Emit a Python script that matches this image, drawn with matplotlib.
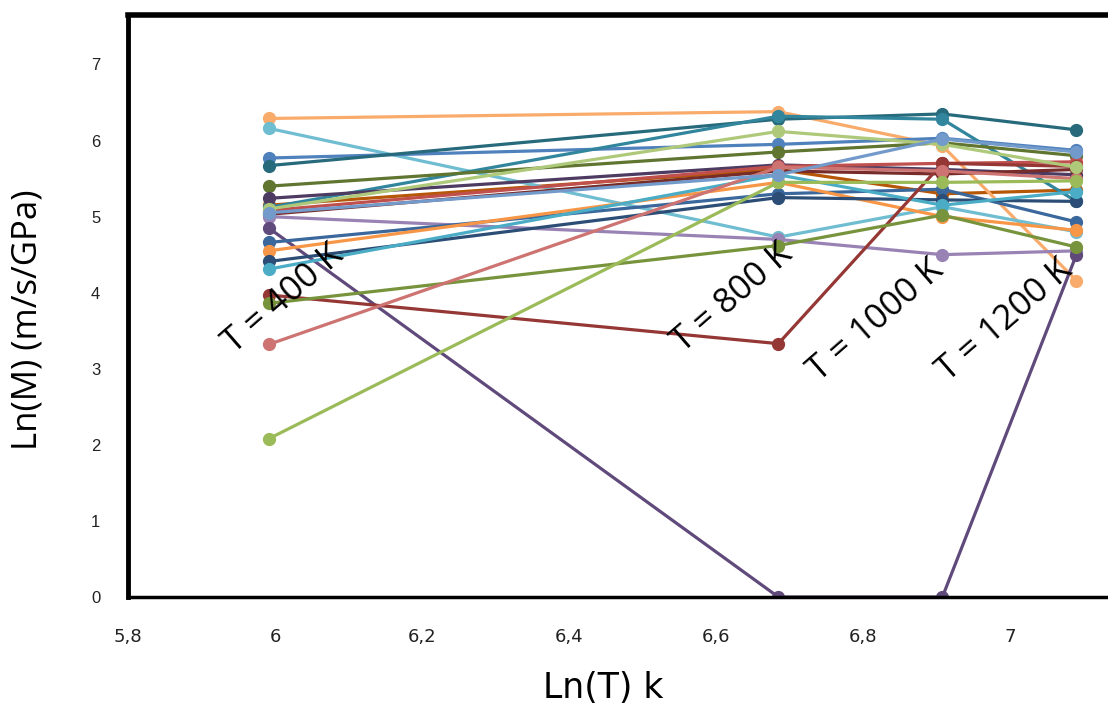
import numpy as np
import matplotlib.pyplot as plt

# temperatures (K) -> x = ln(T)
temperaturas = [400, 800, 1000, 1200]
etiquetas_t = ["T = 400 K", "T = 800 K", "T = 1000 K", "T = 1200 K"]

# Ln(M) values, one list per series
s01 = [6.29, 6.38, 5.93, 4.16]
s02 = [6.16, 4.73, 5.13, 4.80]
s03 = [5.77, 5.95, 6.03, 5.87]
s04 = [5.67, 6.28, 6.35, 6.14]
s05 = [5.12, 6.32, 6.28, 5.20]
s06 = [5.40, 5.85, 5.97, 5.80]
s07 = [5.24, 5.68, 5.62, 5.55]
s08 = [5.08, 5.66, 5.70, 5.72]
s09 = [5.03, 5.60, 5.56, 5.62]
s10 = [5.00, 4.70, 4.50, 4.55]
s11 = [4.85, 0.00, 0.00, 4.50]
s12 = [4.66, 5.30, 5.36, 4.93]
s13 = [4.55, 5.45, 5.00, 4.82]
s14 = [4.41, 5.25, 5.22, 5.20]
s15 = [4.31, 5.55, 5.15, 5.33]
s16 = [3.97, 3.33, 5.70, 5.66]
s17 = [3.86, 4.62, 5.02, 4.60]
s18 = [3.32, 5.65, 5.60, 5.50]
s19 = [2.08, 5.45, 5.45, 5.47]
s20 = [5.10, 6.12, 5.95, 5.65]
s21 = [5.05, 5.55, 6.02, 5.85]
s22 = [5.15, 5.62, 5.30, 5.35]

series = [s22, s01, s02, s03, s04, s05, s06, s07, s08, s09, s10, s11,
          s12, s13, s14, s15, s16, s17, s18, s19, s20, s21]

colores = ["#B65708", "#F9AB6B", "#6FBDD1", "#4F81BD", "#276A7C", "#31859C",
           "#5F7530", "#4D3B62", "#C0504D", "#772C2A", "#9983B5", "#604A7B",
           "#3A679C", "#F79646", "#2C4D75", "#4BACC6", "#953735", "#77933C",
           "#CD7371", "#9BBB59", "#AFC97A", "#729ACA"]

# label positions (data coords)
pos_etiquetas = [(6.012, 3.92), (6.622, 3.93), (6.818, 3.64), (6.993, 3.63)]

x = np.log(temperaturas)

fig = plt.figure(figsize=(11.08, 7.10), dpi=100)
ax = fig.add_axes([128 / 1108, 113 / 710, 1 - 128 / 1108, (597 - 15) / 710])

for vals, c in zip(series, colores):
    ax.plot(x, vals, color=c, linewidth=2.3, marker="o", markersize=8.5)

ax.set_xlim(5.8, 7.133)
ax.set_ylim(0, 7.65)
ax.set_xticks([5.8, 6.0, 6.2, 6.4, 6.6, 6.8, 7.0])
ax.set_xticklabels(["5,8", "6", "6,2", "6,4", "6,6", "6,8", "7"],
                   family="Liberation Sans Narrow", fontsize=13, color="#222222")
ax.set_yticks(range(0, 8))
ax.set_yticklabels([str(i) for i in range(0, 8)], fontsize=12, color="#222222",
                   family="Liberation Sans")
ax.tick_params(length=0, pad=22, axis="x")
ax.tick_params(length=0, pad=20, axis="y")

ax.spines["right"].set_visible(False)
ax.spines["top"].set_linewidth(4)
ax.spines["left"].set_linewidth(3.5)
ax.spines["bottom"].set_linewidth(2.5)
for s in ["top", "left", "bottom"]:
    ax.spines[s].set_color("black")

for (tx, ty), txt in zip(pos_etiquetas, etiquetas_t):
    ax.text(tx, ty, txt, rotation=41, fontsize=25, ha="center", va="center",
            family="Open Sans", rotation_mode="anchor")

fig.text(28 / 1108, (710 - 320) / 710, "Ln(M) (m/s/GPa)", rotation=90,
         fontsize=25, ha="center", va="center", family="Open Sans")
fig.text(603 / 1108, (710 - 688) / 710, "Ln(T) k", fontsize=25,
         ha="center", va="center", family="Liberation Sans Narrow")

fig.savefig("out.png", dpi=100)
